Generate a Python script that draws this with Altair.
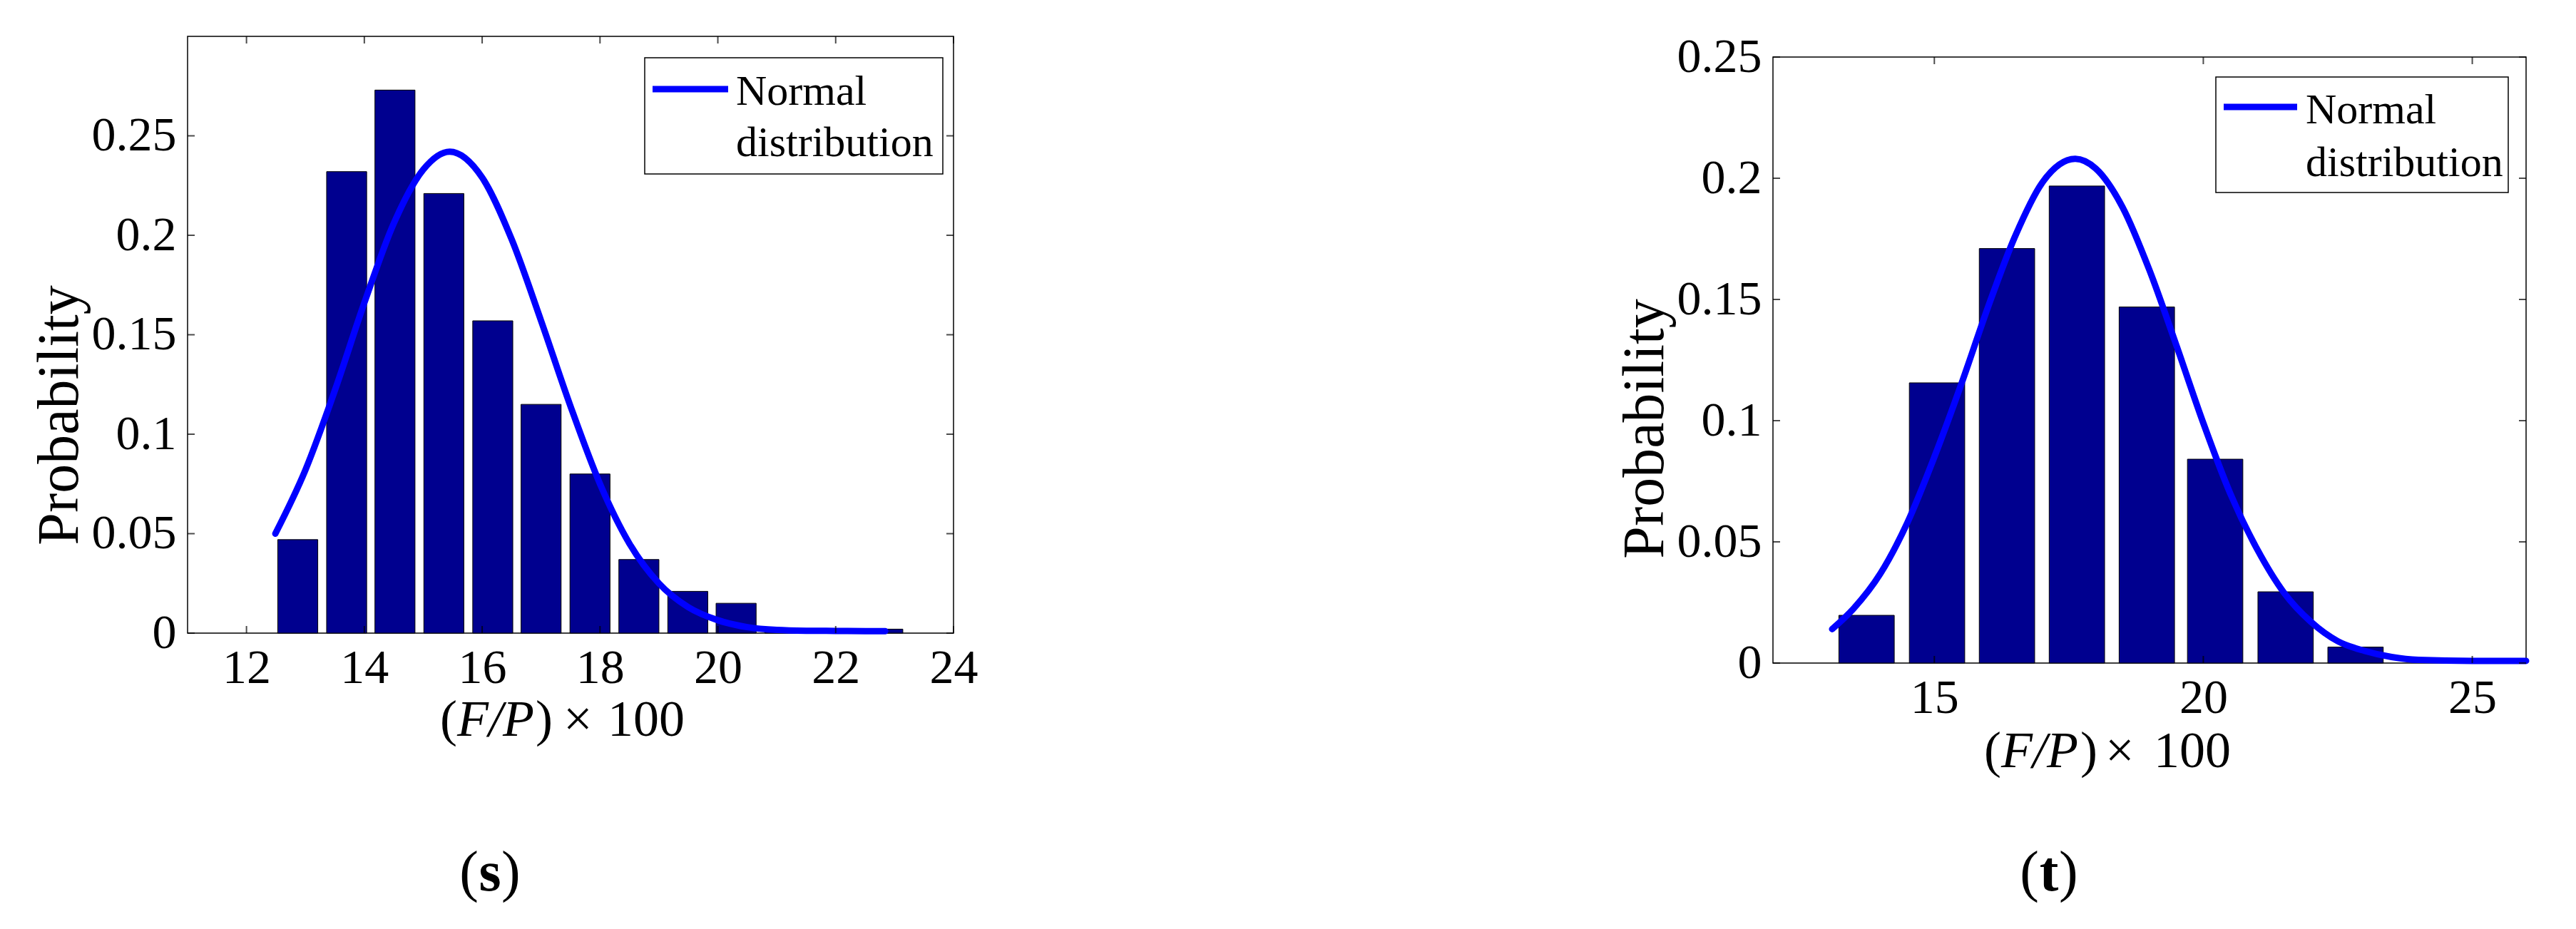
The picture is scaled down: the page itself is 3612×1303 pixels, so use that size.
import altair as alt
import pandas as pd

FONT = "Liberation Serif"
BAR_COLOR = "#00008F"
CURVE_COLOR = "#0000FF"

# ---------------- panel (s) ----------------
s_bin_centers = [12.87, 13.70, 14.52, 15.35, 16.18, 17.00, 17.83, 18.66, 19.49, 20.31, 21.14, 21.97, 22.80]
s_probability = [0.047, 0.232, 0.273, 0.221, 0.157, 0.115, 0.080, 0.037, 0.021, 0.015, 0.001, 0.001, 0.002]
s_curve_x = [12.49, 13.0, 13.5, 14.0, 14.5, 15.0, 15.45, 16.0, 16.5, 17.0, 17.5, 18.0, 18.5,
             19.0, 19.5, 20.0, 20.5, 21.0, 21.5, 22.0, 22.5, 22.84]
s_curve_y = [0.050, 0.082, 0.122, 0.166, 0.206, 0.233, 0.242, 0.229, 0.198, 0.157, 0.114, 0.075, 0.045,
             0.025, 0.013, 0.0065, 0.003, 0.0016, 0.0012, 0.0011, 0.001, 0.001]
s_xticks = [12, 14, 16, 18, 20, 22, 24]
s_yticks = [0, 0.05, 0.1, 0.15, 0.2, 0.25]
s_xdomain = [11, 24]
s_ydomain = [0, 0.3]

# ---------------- panel (t) ----------------
t_bin_centers = [13.74, 15.05, 16.35, 17.65, 18.95, 20.22, 21.53, 22.83]
t_probability = [0.0197, 0.1156, 0.171, 0.1968, 0.1469, 0.0841, 0.0294, 0.0066]
t_curve_x = [13.1, 13.5, 14.0, 14.5, 15.0, 15.5, 16.0, 16.5, 17.0, 17.62, 18.0, 18.5, 19.0, 19.5,
             20.0, 20.5, 21.0, 21.5, 22.0, 22.5, 23.0, 23.5, 24.0, 25.0, 26.0]
t_curve_y = [0.014, 0.0225, 0.037, 0.058, 0.085, 0.115, 0.147, 0.176, 0.198, 0.208, 0.204, 0.188, 0.162, 0.131,
             0.099, 0.070, 0.047, 0.029, 0.017, 0.009, 0.005, 0.0025, 0.0013, 0.0009, 0.0009]
t_xticks = [15, 20, 25]
t_yticks = [0, 0.05, 0.1, 0.15, 0.2, 0.25]
t_xdomain = [12, 26]
t_ydomain = [0, 0.25]

LEGEND_TEXT = ["Normal", "distribution"]

TICK_FS = 68
YTITLE_FS = 82
XT_FS = 72
LEG_FS = 60
CAP_FS = 80

one = pd.DataFrame({"k": [0]})


def txt(x, y, s, size, align="left", style="normal", weight="normal", baseline="alphabetic"):
    return alt.Chart(one).mark_text(
        text=s, align=align, baseline=baseline, font=FONT, fontSize=size,
        fontStyle=style, fontWeight=weight, color="black"
    ).encode(x=alt.value(x), y=alt.value(y))


def panel(centers, probs, half_w, cx, cy, xdom, ydom, xticks, yticks, W, H,
          title_y, xlab_pad, leg, xt, cap):
    sx = alt.Scale(domain=xdom, nice=False, zero=False)
    sy = alt.Scale(domain=ydom, nice=False, zero=False)

    x_axis = alt.Axis(
        values=xticks, title=None, domain=False, ticks=False, grid=False,
        labelFont=FONT, labelFontSize=TICK_FS, labelColor="black",
        labelPadding=xlab_pad, labelFlush=False, labelOverlap=False, format="d")
    y_axis = alt.Axis(
        values=yticks, title="Probability", domain=False, ticks=False, grid=False,
        labelFont=FONT, labelFontSize=TICK_FS, labelColor="black",
        labelPadding=16, labelFlush=False, labelOverlap=False, format="~g",
        titleFont=FONT, titleFontSize=YTITLE_FS, titleFontWeight="normal",
        titleColor="black", titleAngle=270, titleX=-180, titleY=title_y,
        titleAlign="center", titleBaseline="middle")

    bars_df = pd.DataFrame({"x": centers, "p": probs})
    bars = alt.Chart(bars_df).transform_calculate(
        lo=f"datum.x - {half_w}", hi=f"datum.x + {half_w}"
    ).mark_rect(color=BAR_COLOR, stroke="black", strokeWidth=1).encode(
        x=alt.X("lo:Q", scale=sx, axis=x_axis),
        x2="hi:Q",
        y=alt.Y("p:Q", scale=sy, axis=y_axis),
        y2=alt.Y2(datum=0),
    )

    curve_df = pd.DataFrame({"x": cx, "y": cy})
    curve = alt.Chart(curve_df).mark_line(
        color=CURVE_COLOR, strokeWidth=9, interpolate="monotone", strokeCap="round"
    ).encode(x=alt.X("x:Q", scale=sx), y=alt.Y("y:Q", scale=sy))

    xt_df = pd.DataFrame({"v": xticks})
    yt_df = pd.DataFrame({"v": yticks})
    tk = dict(color="black", size=10, thickness=2)
    t_bottom = alt.Chart(xt_df).mark_tick(orient="vertical", yOffset=-5, **tk).encode(
        x=alt.X("v:Q", scale=sx), y=alt.YDatum(ydom[0], scale=sy))
    t_top = alt.Chart(xt_df).mark_tick(orient="vertical", yOffset=5, **tk).encode(
        x=alt.X("v:Q", scale=sx), y=alt.YDatum(ydom[1], scale=sy))
    t_left = alt.Chart(yt_df).mark_tick(orient="horizontal", xOffset=5, **tk).encode(
        y=alt.Y("v:Q", scale=sy), x=alt.XDatum(xdom[0], scale=sx))
    t_right = alt.Chart(yt_df).mark_tick(orient="horizontal", xOffset=-5, **tk).encode(
        y=alt.Y("v:Q", scale=sy), x=alt.XDatum(xdom[1], scale=sx))

    bx0, bx1, by0, by1, lx0, lx1, ly, tx, b1, b2 = leg
    box = alt.Chart(one).mark_rect(fill="white", stroke="black", strokeWidth=1.5).encode(
        x=alt.value(bx0), x2=alt.value(bx1), y=alt.value(by0), y2=alt.value(by1))
    legline = alt.Chart(one).mark_rule(color=CURVE_COLOR, strokeWidth=9).encode(
        x=alt.value(lx0), x2=alt.value(lx1), y=alt.value(ly))
    lt1 = txt(tx, b1, LEGEND_TEXT[0], LEG_FS)
    lt2 = txt(tx, b2, LEGEND_TEXT[1], LEG_FS)

    p0, p1, p2, p3, p4, base = xt
    xtitle = [
        txt(p0, base, "(", XT_FS),
        txt(p1, base, "F/P", XT_FS, style="italic"),
        txt(p2, base, ")", XT_FS),
        txt(p3, base, "\u00d7", XT_FS),
        txt(p4, base, "100", XT_FS),
    ]

    ccx, cbase, letter, half = cap
    caption = [
        txt(ccx - half, cbase, "(", CAP_FS, align="right"),
        txt(ccx, cbase, letter, CAP_FS, align="center", weight="bold"),
        txt(ccx + half, cbase, ")", CAP_FS, align="left"),
    ]

    return alt.layer(bars, curve, t_bottom, t_top, t_left, t_right,
                     box, legline, lt1, lt2, *xtitle, *caption).properties(width=W, height=H)


left = panel(s_bin_centers, s_probability, 0.34, s_curve_x, s_curve_y, s_xdomain, s_ydomain,
             s_xticks, s_yticks, 1074, 837, 531, 15,
             (641, 1059, 30, 193, 652, 758, 74, 769, 96, 168),
             (354, 378, 488, 527, 589, 981),
             (424, 1198, "s", 16))

right = panel(t_bin_centers, t_probability, 0.515, t_curve_x, t_curve_y, t_xdomain, t_ydomain,
              t_xticks, t_yticks, 1056, 850, 521, 15,
              (621, 1031, 28, 190, 632, 735, 70, 747, 93, 167),
              (296, 320, 431, 466, 534, 996),
              (387, 1169, "t", 14))

# empty spacer that lowers the right panel relative to the left one
spacer = alt.Chart(one).mark_rule(strokeOpacity=0).encode(
    x=alt.value(0), x2=alt.value(1), y=alt.value(0)
).properties(width=10, height=29, view=alt.ViewBackground(strokeOpacity=0))

right_col = alt.vconcat(spacer, right, spacing=0, bounds="flush")

chart = alt.hconcat(left, right_col, spacing=892).properties(
    padding={"left": 33, "top": 37, "right": 0, "bottom": 0},
    background="white",
).configure_view(stroke="black", strokeWidth=1.5)

chart.save("out.html", embed_options={"renderer": "svg", "actions": False})
